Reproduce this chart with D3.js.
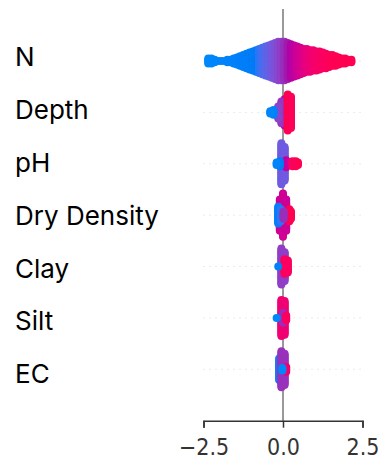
<!DOCTYPE html>
<html>
<head>
<meta charset="utf-8">
<script src="https://cdn.jsdelivr.net/npm/d3@7"></script>
<style>
  body { margin: 0; background: #fff; }
  .feature { font-family: "Inter", "Open Sans", sans-serif; fill: #000; }
  .axis text { font-family: "DejaVu Sans", sans-serif; font-stretch: condensed; fill: #333; }
</style>
</head>
<body>
<svg id="chart" width="383" height="467"></svg>
<script>
// Feature names, top to bottom
const features = ["N", "Depth", "pH", "Dry Density", "Clay", "Silt", "EC"];

// Each entry: [SHAP value, number of points in the column, feature value 0..1]
// entries are drawn in order, so later ones sit on top
const nVals = [
  [-2.35, 5, 0.0], [-2.25, 5, 0.0], [-2.15, 3, 0.02], [-2.05, 1, 0.02], [-1.95, 1, 0.03],
  [-1.85, 1, 0.03], [-1.75, 3, 0.04], [-1.65, 3, 0.04], [-1.55, 5, 0.05], [-1.45, 7, 0.05],
  [-1.35, 9, 0.06], [-1.25, 11, 0.06], [-1.15, 13, 0.07], [-1.05, 15, 0.07], [-0.95, 17, 0.08],
  [-0.85, 19, 0.09], [-0.75, 21, 0.12], [-0.65, 23, 0.16], [-0.55, 25, 0.2], [-0.45, 27, 0.24],
  [-0.35, 29, 0.28], [-0.25, 31, 0.32], [-0.15, 33, 0.36], [-0.05, 33, 0.4], [0.05, 33, 0.45],
  [0.15, 31, 0.5], [0.25, 29, 0.55], [0.35, 27, 0.6], [0.45, 25, 0.65], [0.55, 23, 0.7],
  [0.65, 21, 0.75], [0.75, 20, 0.79], [0.85, 19, 0.83], [0.95, 18, 0.86], [1.05, 17, 0.89],
  [1.15, 16, 0.91], [1.25, 14, 0.93], [1.35, 13, 0.95], [1.45, 11, 0.97], [1.55, 10, 0.98],
  [1.65, 9, 0.99], [1.75, 7, 1.0], [1.85, 5, 1.0], [1.95, 5, 1.0], [2.05, 3, 1.0], [2.15, 3, 1.0]
];
const depthVals = [
  [0.05, 23, 0.65], [-0.05, 19, 0.42], [-0.15, 11, 0.38],
  [-0.3, 5, 0.04], [-0.4, 3, 0.02],
  [0.15, 31, 1.0], [0.25, 27, 0.97]
];
const phVals = [
  [-0.05, 35, 0.27], [0.05, 29, 0.27], [0.1, 7, 0.62],
  [-0.1, 5, 0.08], [-0.2, 3, 0.03],
  [0.3, 5, 0.95], [0.4, 5, 0.97], [0.47, 3, 1.0]
];
const dryDensityVals = [
  [-0.1, 27, 0.66], [0.0, 37, 0.68], [0.1, 27, 0.66],
  [-0.15, 15, 0.06], [-0.07, 11, 0.12],
  [0.2, 11, 1.0], [0.25, 7, 1.0], [0.02, 7, 0.45]
];
const clayVals = [
  [-0.05, 31, 0.4], [0.05, 25, 0.4], [0.05, 13, 0.95], [0.15, 11, 0.95], [-0.15, 1, 0.05]
];
const siltVals = [
  [-0.05, 31, 0.85], [0.05, 29, 0.85], [0.0, 9, 0.45], [0.1, 5, 0.95], [-0.2, 1, 0.0]
];
const ecVals = [
  [-0.12, 19, 0.1], [-0.05, 31, 0.44], [0.05, 27, 0.44],
  [0.1, 5, 0.88], [-0.02, 3, 0.0]
];
const rows = [nVals, depthVals, phVals, dryDensityVals, clayVals, siltVals, ecVals];

const xTicks = [-2.5, 0, 2.5];

const svg = d3.select("#chart");

// Scales
const x = d3.scaleLinear().domain([-2.5, 2.5]).range([203.5, 362.5]);
const rowY = d3.scaleLinear().domain([0, features.length - 1]).range([61, 369.3]);
const labelY = d3.scaleLinear().domain([0, features.length - 1]).range([66, 383.3]);

// SHAP style red-blue colour map (lch)
const color = d3.scaleLinear()
  .domain([0, 0.5, 1])
  .range([d3.hcl(266.9, 70, 54), d3.hcl(323.7, 80, 40), d3.hcl(380.3, 90, 54)])
  .interpolate(d3.interpolateHcl);

const axisY = 420.7;
const dotR = 4;
const stackStep = 1.2;

// Dotted guide lines for each feature
svg.append("g")
  .selectAll("line")
  .data(features)
  .enter()
  .append("line")
  .attr("x1", x(-2.5))
  .attr("x2", x(2.5))
  .attr("y1", (d, i) => rowY(i))
  .attr("y2", (d, i) => rowY(i))
  .attr("stroke", "#d6d6d6")
  .attr("stroke-width", 1)
  .attr("stroke-dasharray", "1 5");

// Zero line
svg.append("line")
  .attr("x1", x(0))
  .attr("x2", x(0))
  .attr("y1", 9)
  .attr("y2", axisY)
  .attr("stroke", "#999")
  .attr("stroke-width", 2);

// Build the dots: each entry is a column stacked around the row centre
const dots = [];
rows.forEach((entries, i) => {
  entries.forEach(([v, count, fv]) => {
    for (let k = 0; k < count; k++) {
      const off = k % 2 === 1 ? -(k + 1) / 2 : k / 2;
      dots.push({ v: v, fv: fv, y: rowY(i) + off * stackStep });
    }
  });
});

svg.append("g")
  .selectAll("circle")
  .data(dots)
  .enter()
  .append("circle")
  .attr("cx", d => x(d.v))
  .attr("cy", d => d.y)
  .attr("r", dotR)
  .attr("fill", d => color(d.fv));

// Feature labels
svg.append("g")
  .selectAll("text")
  .data(features)
  .enter()
  .append("text")
  .attr("class", "feature")
  .attr("x", 15)
  .attr("y", (d, i) => labelY(i))
  .attr("font-size", 26)
  .text(d => d);

// Bottom axis
const axis = svg.append("g")
  .attr("class", "axis")
  .attr("transform", `translate(0,${axisY})`)
  .call(d3.axisBottom(x)
    .tickValues(xTicks)
    .tickSize(7)
    .tickSizeOuter(7)
    .tickPadding(11)
    .tickFormat(d3.format(".1f")));

axis.selectAll("path, line").attr("stroke", "#333").attr("stroke-width", 1.5);
axis.selectAll("text").attr("font-size", 23);
</script>
</body>
</html>
